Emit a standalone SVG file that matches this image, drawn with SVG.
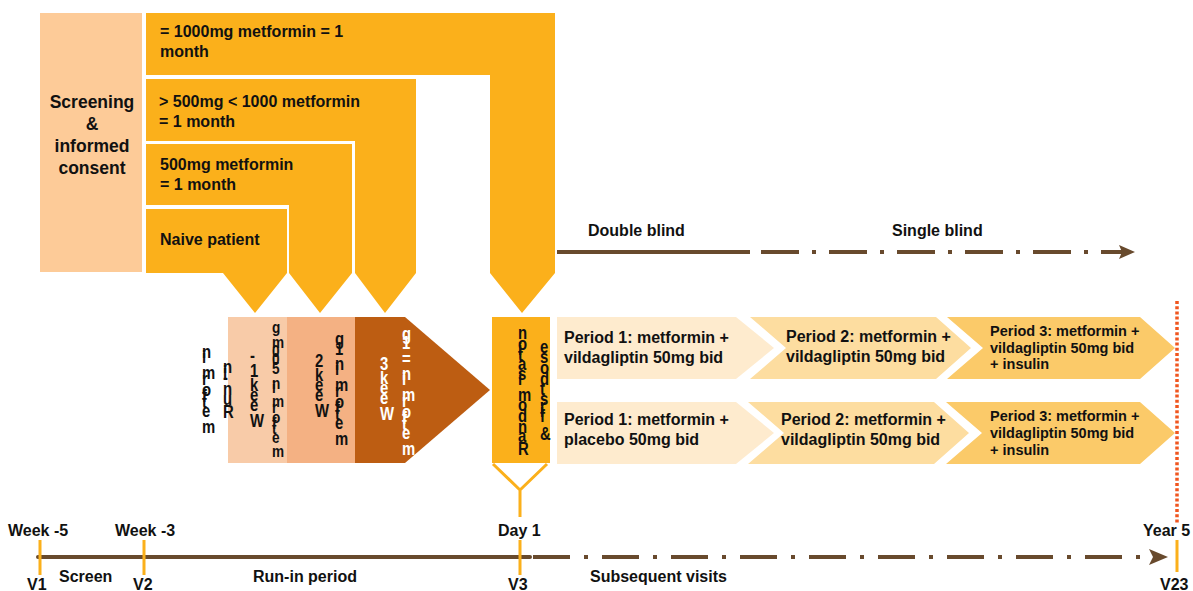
<svg xmlns="http://www.w3.org/2000/svg" width="1193" height="591" viewBox="0 0 1193 591">
<style>
.t{font-family:"Liberation Sans",Arial,sans-serif;font-weight:bold;font-size:16px;fill:#111}
.s{font-size:14.5px}
.sc{font-size:17.5px;text-anchor:middle}
.v{font-family:"Liberation Sans",Arial,sans-serif;font-weight:bold;font-size:17.5px;fill:#111}
.w{fill:#fff}
.or{fill:#FBB01B}
.tick{stroke:#FBB01B;stroke-width:3;fill:none}
.ln{stroke:#684A2D;stroke-width:4;fill:none}
.dd{stroke-dasharray:38 13 4 13}
.ah{fill:#684A2D}
</style>
<rect width="1193" height="591" fill="#fff"/>

<g id="screening">
<rect x="40" y="13" width="102" height="259" fill="#FDCB98"/>
<text class="t sc" x="92" y="108">Screening</text>
<text class="t sc" x="92" y="130">&amp;</text>
<text class="t sc" x="92" y="152">informed</text>
<text class="t sc" x="92" y="174">consent</text>
</g>

<g id="dose1000">
<path class="or" d="M146,13 H555 V273 L522,313 L490,273 V75 H146 Z"/>
<text class="t" x="160" y="37">= 1000mg metformin = 1</text>
<text class="t" x="160" y="57">month</text>
</g>
<g id="dose500to1000">
<path class="or" d="M146,79 H416 V273 L385,313 L355,273 V141 H146 Z"/>
<text class="t" x="159" y="107">&gt; 500mg &lt; 1000 metformin</text>
<text class="t" x="159" y="127">= 1 month</text>
</g>
<g id="dose500">
<path class="or" d="M146,144 H352 V273 L320,313 L289,273 V205 H146 Z"/>
<text class="t" x="160" y="170">500mg metformin</text>
<text class="t" x="160" y="190">= 1 month</text>
</g>
<g id="naive">
<path class="or" d="M146,209 H287 V273 L255,313 L223,273 H146 Z"/>
<text class="t" x="160" y="245">Naive patient</text>
</g>

<g id="runin-label">
<text class="v" transform="translate(202,433) scale(0.85,1) rotate(-90)" rotate="90">metformin</text>
</g>
<g id="runin-week1">
<rect x="228" y="317" width="59" height="146" fill="#F8CBA8"/>
<text class="v" transform="translate(223,418) scale(0.85,1) rotate(-90)" rotate="90">Run-in</text>
<text class="v" transform="translate(250,427) scale(0.85,1) rotate(-90)" rotate="90">Week 1 -</text>
<text class="v" transform="translate(272,457) scale(0.85,1) rotate(-90)" rotate="90" style="font-size:16px">metformin 500mg</text>
</g>
<g id="runin-week2">
<rect x="287" y="317" width="68" height="146" fill="#F4B183"/>
<text class="v" transform="translate(315,417) scale(0.85,1) rotate(-90)" rotate="90">Week 2</text>
<text class="v" transform="translate(335,445) scale(0.85,1) rotate(-90)" rotate="90">metformin 1g</text>
</g>
<g id="runin-week3">
<polygon points="355,317 405,317 490,390 405,463 355,463" fill="#BD5D12"/>
<text class="v w" transform="translate(380,420) scale(0.85,1) rotate(-90)" rotate="90">Week 3</text>
<text class="v w" transform="translate(402,455) scale(0.85,1) rotate(-90)" rotate="90">metformin = 1g</text>
</g>

<g id="randomisation">
<rect class="or" x="492" y="317" width="58" height="146"/>
<text class="v" transform="translate(518,455) scale(0.85,1) rotate(-90)" rotate="90">Randomisation</text>
<text class="v" transform="translate(540,440) scale(0.85,1) rotate(-90)" rotate="90">&amp; first dose</text>
<path class="tick" d="M493,464 L520,490 L547,464 M520,490 V517" stroke-width="2.5"/>
</g>

<g id="p1a">
<polygon points="557,317 736,317 774,348 736,379 557,379" fill="#FEEBCE"/>
<text class="t" x="564" y="343">Period 1: metformin +</text>
<text class="t" x="564" y="363">vildagliptin 50mg bid</text>
</g>
<g id="p2a">
<polygon points="750,317 936,317 971,348 936,379 750,379 786,348" fill="#FDDDA0"/>
<text class="t" x="786" y="342">Period 2: metformin +</text>
<text class="t" x="786" y="362">vildagliptin 50mg bid</text>
</g>
<g id="p3a">
<polygon points="947,317 1140,317 1175,348 1140,379 947,379 983,348" fill="#FBCA69"/>
<text class="t s" x="990" y="336">Period 3: metformin +</text>
<text class="t s" x="990" y="353">vildagliptin 50mg bid</text>
<text class="t s" x="990" y="369">+ insulin</text>
</g>
<g id="p1b">
<polygon points="557,402 736,402 774,433 736,464 557,464" fill="#FEEBCE"/>
<text class="t" x="564" y="425">Period 1: metformin +</text>
<text class="t" x="564" y="445">placebo 50mg bid</text>
</g>
<g id="p2b">
<polygon points="748,402 934,402 969,433 934,464 748,464 784,433" fill="#FDDDA0"/>
<text class="t" x="781" y="425">Period 2: metformin +</text>
<text class="t" x="781" y="445">vildagliptin 50mg bid</text>
</g>
<g id="p3b">
<polygon points="946,402 1140,402 1175,433 1140,464 946,464 982,433" fill="#FBCA69"/>
<text class="t s" x="990" y="421">Period 3: metformin +</text>
<text class="t s" x="990" y="438">vildagliptin 50mg bid</text>
<text class="t s" x="990" y="455">+ insulin</text>
</g>

<g id="blinding">
<text class="t" x="588" y="236">Double blind</text>
<text class="t" x="892" y="236">Single blind</text>
</g>

<g id="connectors">
<path class="ln" d="M557,252 H750"/>
<path class="ln dd" d="M761,252 H1122"/>
<polygon class="ah" points="1119,245 1135,252 1119,259 1122,252"/>
<path class="ln" d="M38,557 H530" stroke-linecap="round"/>
<path class="ln" d="M533,557 H1151" style="stroke-dasharray:37 14 4 14"/>
<polygon class="ah" points="1149,549 1168,557 1149,565 1153,557"/>
<path d="M1177,301 V523" stroke="#F0561F" stroke-width="3.5" stroke-dasharray="3 2.2" fill="none"/>
<path class="tick" d="M40,540 V575 M144,540 V575 M520,540 V575 M1177,540 V572"/>
</g>

<g id="timeline-labels">
<text class="t" x="8" y="536">Week -5</text>
<text class="t" x="115" y="536">Week -3</text>
<text class="t" x="498" y="536">Day 1</text>
<text class="t" x="1143" y="536">Year 5</text>
<text class="t" x="27" y="590">V1</text>
<text class="t" x="59" y="582">Screen</text>
<text class="t" x="133" y="590">V2</text>
<text class="t" x="253" y="582">Run-in period</text>
<text class="t" x="508" y="590">V3</text>
<text class="t" x="590" y="582">Subsequent visits</text>
<text class="t" x="1160" y="590">V23</text>
</g>
</svg>
